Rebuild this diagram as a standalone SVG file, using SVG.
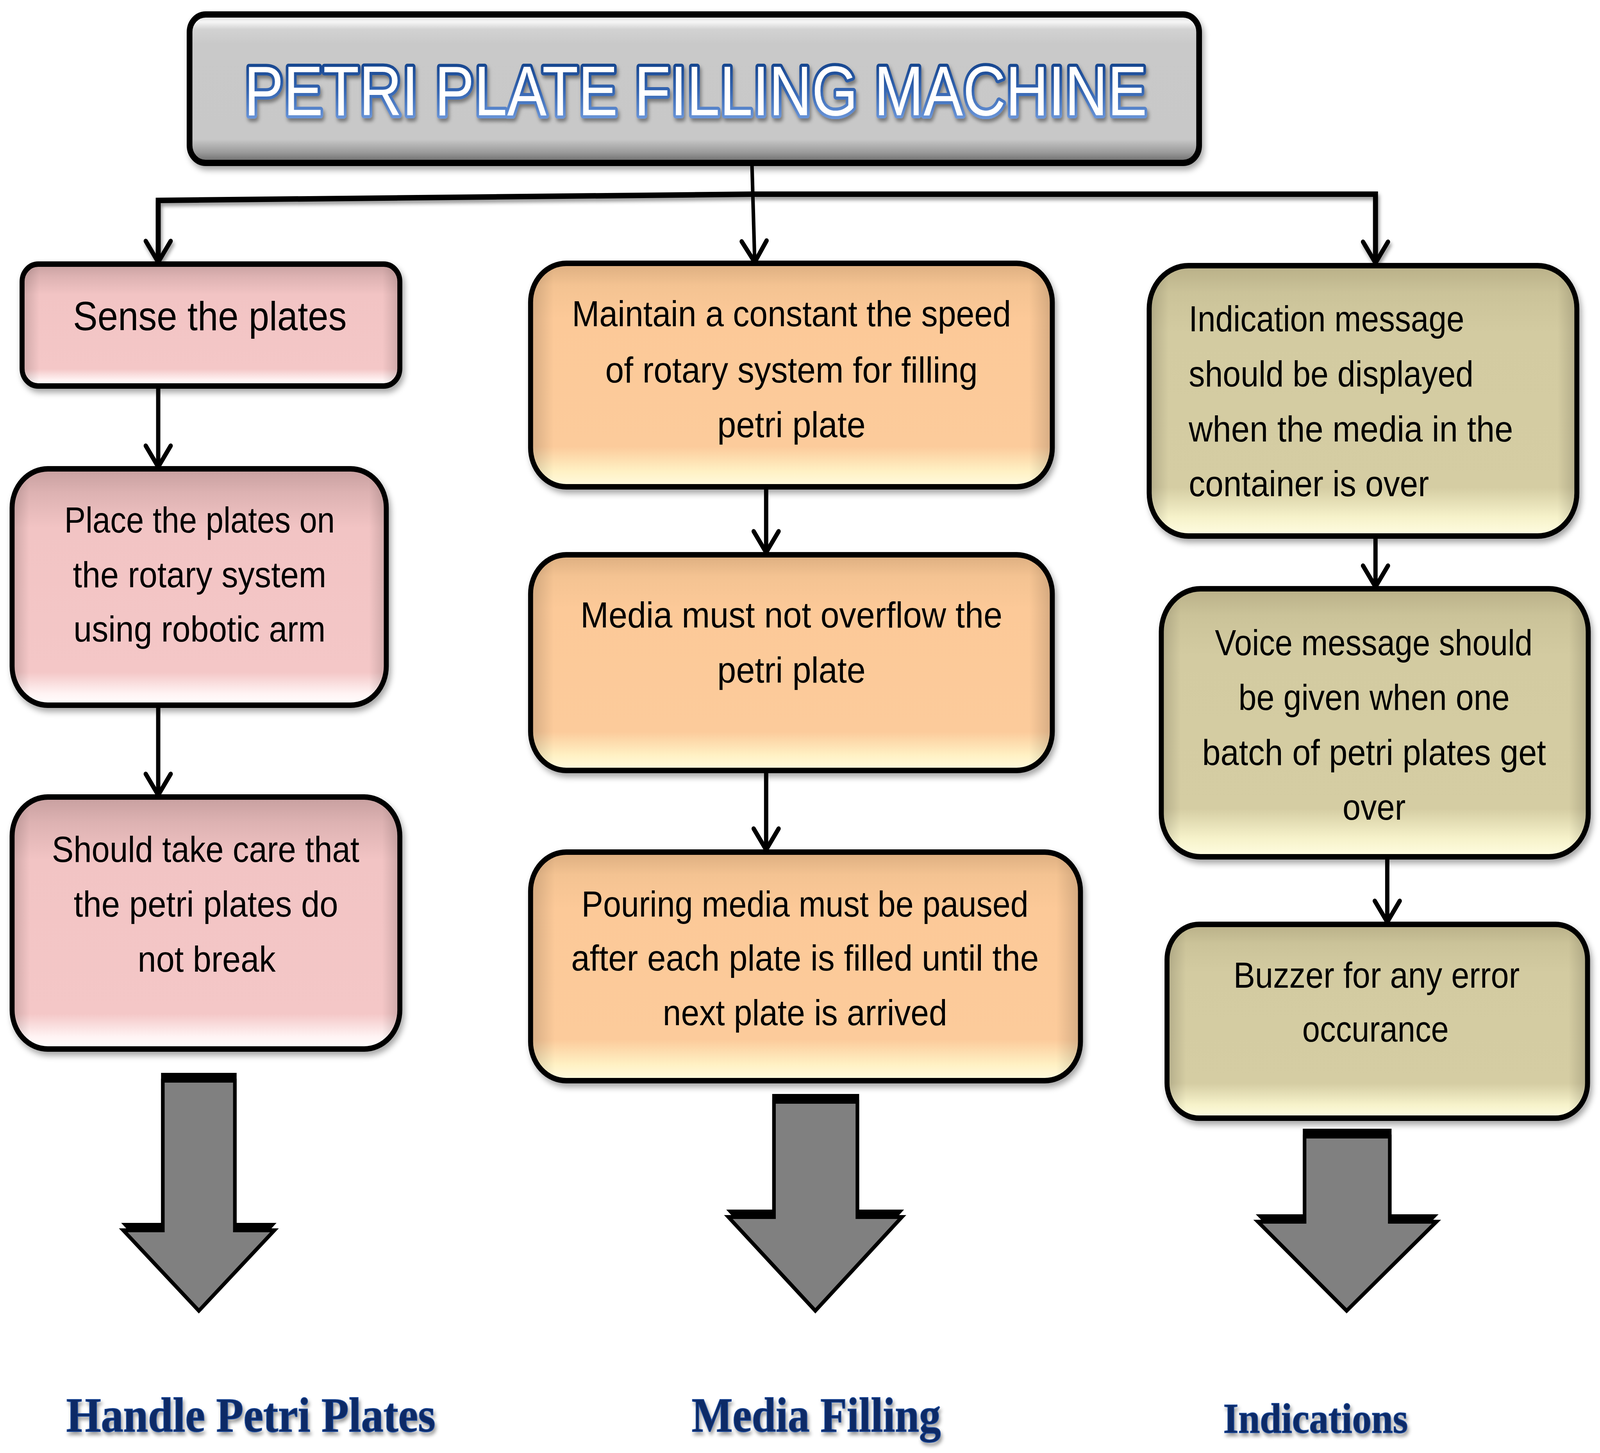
<svg xmlns="http://www.w3.org/2000/svg" width="4490" height="3719" viewBox="0 0 4490 3719" preserveAspectRatio="none">
<defs>
<linearGradient id="gTitle" x1="0" y1="0" x2="0" y2="1">
<stop offset="0" stop-color="#d4d4d4"/><stop offset="0.05" stop-color="#f6f6f6"/><stop offset="0.1" stop-color="#d2d2d2"/><stop offset="0.2" stop-color="#c9c9c9"/><stop offset="0.84" stop-color="#c8c8c8"/><stop offset="0.93" stop-color="#9a9a9a"/><stop offset="1" stop-color="#666666"/>
</linearGradient>
<linearGradient id="gPink" x1="0" y1="0" x2="0" y2="1">
<stop offset="0" stop-color="#c79f9f"/><stop offset="0.1" stop-color="#ddb2b2"/><stop offset="0.25" stop-color="#f2c4c4"/><stop offset="0.86" stop-color="#f4c7c7"/><stop offset="0.95" stop-color="#fff3f3"/><stop offset="1" stop-color="#ffffff"/>
</linearGradient>
<linearGradient id="gOrange" x1="0" y1="0" x2="0" y2="1">
<stop offset="0" stop-color="#dcae80"/><stop offset="0.1" stop-color="#f4c392"/><stop offset="0.25" stop-color="#fcc998"/><stop offset="0.82" stop-color="#fccb9b"/><stop offset="0.93" stop-color="#fff1c4"/><stop offset="1" stop-color="#fffbe0"/>
</linearGradient>
<linearGradient id="gOlive" x1="0" y1="0" x2="0" y2="1">
<stop offset="0" stop-color="#b9b088"/><stop offset="0.1" stop-color="#cbc399"/><stop offset="0.25" stop-color="#d3cba1"/><stop offset="0.82" stop-color="#d5cda3"/><stop offset="0.93" stop-color="#f6f2ca"/><stop offset="1" stop-color="#fffde2"/>
</linearGradient>
<linearGradient id="gSide" x1="0" y1="0" x2="1" y2="0">
<stop offset="0" stop-color="#000" stop-opacity="0.14"/><stop offset="0.04" stop-color="#000" stop-opacity="0"/><stop offset="0.96" stop-color="#000" stop-opacity="0"/><stop offset="1" stop-color="#000" stop-opacity="0.14"/>
</linearGradient>
<linearGradient id="gTitleText" x1="0" y1="0" x2="0" y2="1">
<stop offset="0" stop-color="#0a3880"/><stop offset="0.5" stop-color="#3566b2"/><stop offset="1" stop-color="#80a8e8"/>
</linearGradient>
<filter id="shadow" x="-10%" y="-10%" width="130%" height="140%">
<feDropShadow dx="6" dy="10" stdDeviation="8" flood-color="#000" flood-opacity="0.35"/>
</filter>
<filter id="tshadow" x="-5%" y="-20%" width="110%" height="150%">
<feDropShadow dx="4" dy="8" stdDeviation="5" flood-color="#000" flood-opacity="0.4"/>
</filter>
<marker id="chev" markerUnits="userSpaceOnUse" markerWidth="80" markerHeight="80" refX="58" refY="40" orient="auto" overflow="visible">
<path d="M4,5 L58,40 L4,75" fill="none" stroke="#000" stroke-width="12" stroke-linecap="round" stroke-linejoin="round"/>
</marker>
</defs>
<style>
:root{width:100vw;height:100vh}
.box{stroke:#000;stroke-width:14;filter:url(#shadow)}
.side{fill:url(#gSide);stroke:none}
.pink{fill:url(#gPink)}
.orange{fill:url(#gOrange)}
.olive{fill:url(#gOlive)}
.t{font-family:"Liberation Sans",Arial,sans-serif;font-size:92px;fill:#000}
.c{text-anchor:middle}
.con{fill:none;stroke:#000;stroke-width:12;marker-end:url(#chev)}
.blk{fill:#808080;stroke:#000;stroke-width:10;stroke-linejoin:miter}
.blkb{fill:#000}
.lab{font-family:"Liberation Serif","Times New Roman",serif;font-weight:bold;fill:#0a2a66;stroke:#1c4a9a;stroke-width:2;filter:url(#tshadow)}
</style>

<g id="title">
<rect class="box" x="532" y="37" width="2833" height="380" rx="45" fill="url(#gTitle)" style="stroke-width:16"/>
<text x="1952" y="295" text-anchor="middle" font-family="'Liberation Sans',Arial,sans-serif" font-size="180" textLength="2534" lengthAdjust="spacingAndGlyphs" fill="#ffffff" stroke="url(#gTitleText)" stroke-width="16" paint-order="stroke" stroke-linejoin="round" filter="url(#tshadow)">PETRI PLATE FILLING MACHINE</text>
</g>

<g id="connectors">
<path d="M2110,497 L444,513 L444,671" class="con" style="stroke-width:14" filter="url(#tshadow)"/>
<path d="M2110,497 L3860,497 L3860,673" class="con" style="stroke-width:14" filter="url(#tshadow)"/>
<path d="M2110,415 L2118,671" class="con" style="stroke-width:10"/>
<path d="M444,988 L444,1195" class="con"/>
<path d="M444,1805 L444,2035" class="con"/>
<path d="M2150,1246 L2150,1414" class="con"/>
<path d="M2150,1973 L2150,2175" class="con"/>
<path d="M3860,1372 L3860,1502" class="con"/>
<path d="M3893,2193 L3893,2360" class="con"/>
</g>

<g id="sense">
<rect class="box pink" x="62" y="676" width="1060" height="312" rx="45"/>
<rect class="side" x="69" y="683" width="1046" height="298" rx="40"/>
<text class="t c" x="589" y="845" style="font-size:104px" textLength="768" lengthAdjust="spacingAndGlyphs">Sense the plates</text>
</g>

<g id="place">
<rect class="box pink" x="34" y="1200" width="1050" height="605" rx="100"/>
<rect class="side" x="41" y="1207" width="1036" height="591" rx="94"/>
<text class="t c" x="560" y="1363" textLength="759" lengthAdjust="spacingAndGlyphs">Place the plates on</text>
<text class="t c" x="560" y="1503" textLength="711" lengthAdjust="spacingAndGlyphs">the rotary system</text>
<text class="t c" x="560" y="1642" textLength="707" lengthAdjust="spacingAndGlyphs">using robotic arm</text>
</g>

<g id="care">
<rect class="box pink" x="34" y="2040" width="1088" height="645" rx="100"/>
<rect class="side" x="41" y="2047" width="1074" height="631" rx="94"/>
<text class="t c" x="577" y="2206" textLength="863" lengthAdjust="spacingAndGlyphs">Should take care that</text>
<text class="t c" x="578" y="2346" textLength="742" lengthAdjust="spacingAndGlyphs">the petri plates do</text>
<text class="t c" x="580" y="2487" textLength="387" lengthAdjust="spacingAndGlyphs">not break</text>
</g>

<g id="speed">
<rect class="box orange" x="1489" y="674" width="1464" height="572" rx="100"/>
<rect class="side" x="1496" y="681" width="1450" height="558" rx="94"/>
<text class="t c" x="2221" y="835" textLength="1232" lengthAdjust="spacingAndGlyphs">Maintain a constant the speed</text>
<text class="t c" x="2221" y="979" textLength="1045" lengthAdjust="spacingAndGlyphs">of rotary system for filling</text>
<text class="t c" x="2221" y="1119" textLength="416" lengthAdjust="spacingAndGlyphs">petri plate</text>
</g>

<g id="overflow">
<rect class="box orange" x="1489" y="1420" width="1464" height="552" rx="100"/>
<rect class="side" x="1496" y="1427" width="1450" height="538" rx="94"/>
<text class="t c" x="2221" y="1606" textLength="1184" lengthAdjust="spacingAndGlyphs">Media must not overflow the</text>
<text class="t c" x="2221" y="1747" textLength="416" lengthAdjust="spacingAndGlyphs">petri plate</text>
</g>

<g id="pause">
<rect class="box orange" x="1489" y="2181" width="1543" height="585" rx="100"/>
<rect class="side" x="1496" y="2188" width="1529" height="571" rx="94"/>
<text class="t c" x="2259" y="2346" textLength="1254" lengthAdjust="spacingAndGlyphs">Pouring media must be paused</text>
<text class="t c" x="2259" y="2484" textLength="1312" lengthAdjust="spacingAndGlyphs">after each plate is filled until the</text>
<text class="t c" x="2259" y="2624" textLength="798" lengthAdjust="spacingAndGlyphs">next plate is arrived</text>
</g>

<g id="indication">
<rect class="box olive" x="3225" y="680" width="1200" height="692" rx="110"/>
<rect class="side" x="3232" y="687" width="1186" height="678" rx="104"/>
<text class="t" x="3336" y="848" textLength="773" lengthAdjust="spacingAndGlyphs">Indication message</text>
<text class="t" x="3336" y="989" textLength="799" lengthAdjust="spacingAndGlyphs">should be displayed</text>
<text class="t" x="3336" y="1130" textLength="910" lengthAdjust="spacingAndGlyphs">when the media in the</text>
<text class="t" x="3336" y="1270" textLength="674" lengthAdjust="spacingAndGlyphs">container is over</text>
</g>

<g id="voice">
<rect class="box olive" x="3259" y="1507" width="1198" height="686" rx="110"/>
<rect class="side" x="3266" y="1514" width="1184" height="672" rx="104"/>
<text class="t c" x="3855" y="1677" textLength="891" lengthAdjust="spacingAndGlyphs">Voice message should</text>
<text class="t c" x="3856" y="1817" textLength="761" lengthAdjust="spacingAndGlyphs">be given when one</text>
<text class="t c" x="3856" y="1958" textLength="965" lengthAdjust="spacingAndGlyphs">batch of petri plates get</text>
<text class="t c" x="3856" y="2098" textLength="177" lengthAdjust="spacingAndGlyphs">over</text>
</g>

<g id="buzzer">
<rect class="box olive" x="3275" y="2366" width="1180" height="496" rx="90"/>
<rect class="side" x="3282" y="2373" width="1166" height="482" rx="84"/>
<text class="t c" x="3863" y="2528" textLength="803" lengthAdjust="spacingAndGlyphs">Buzzer for any error</text>
<text class="t c" x="3860" y="2666" textLength="411" lengthAdjust="spacingAndGlyphs">occurance</text>
</g>

<g id="arrow-handle">
<polygon class="blkb" points="452,2746 664,2746 664,3130 776,3130 558,3346 340,3130 452,3130"/>
<polygon class="blk" points="457,2766 659,2766 659,3149 770,3149 558,3355 346,3149 457,3149"/>
</g>
<g id="arrow-media">
<polygon class="blkb" points="2167,2800 2411,2800 2411,3096 2537,3096 2288,3346 2038,3096 2167,3096"/>
<polygon class="blk" points="2172,2820 2406,2820 2406,3115 2531,3115 2288,3355 2044,3115 2172,3115"/>
</g>
<g id="arrow-ind">
<polygon class="blkb" points="3656,2889 3905,2889 3905,3108 4037,3108 3779,3346 3524,3108 3656,3108"/>
<polygon class="blk" points="3661,2909 3900,2909 3900,3127 4031,3127 3779,3355 3530,3127 3661,3127"/>
</g>

<g id="labels">
<text class="lab" x="186" y="3664" font-size="125" textLength="1036" lengthAdjust="spacingAndGlyphs">Handle Petri Plates</text>
<text class="lab" x="1941" y="3664" font-size="125" textLength="699" lengthAdjust="spacingAndGlyphs">Media Filling</text>
<text class="lab" x="3433" y="3667" font-size="108" textLength="518" lengthAdjust="spacingAndGlyphs">Indications</text>
</g>
</svg>
